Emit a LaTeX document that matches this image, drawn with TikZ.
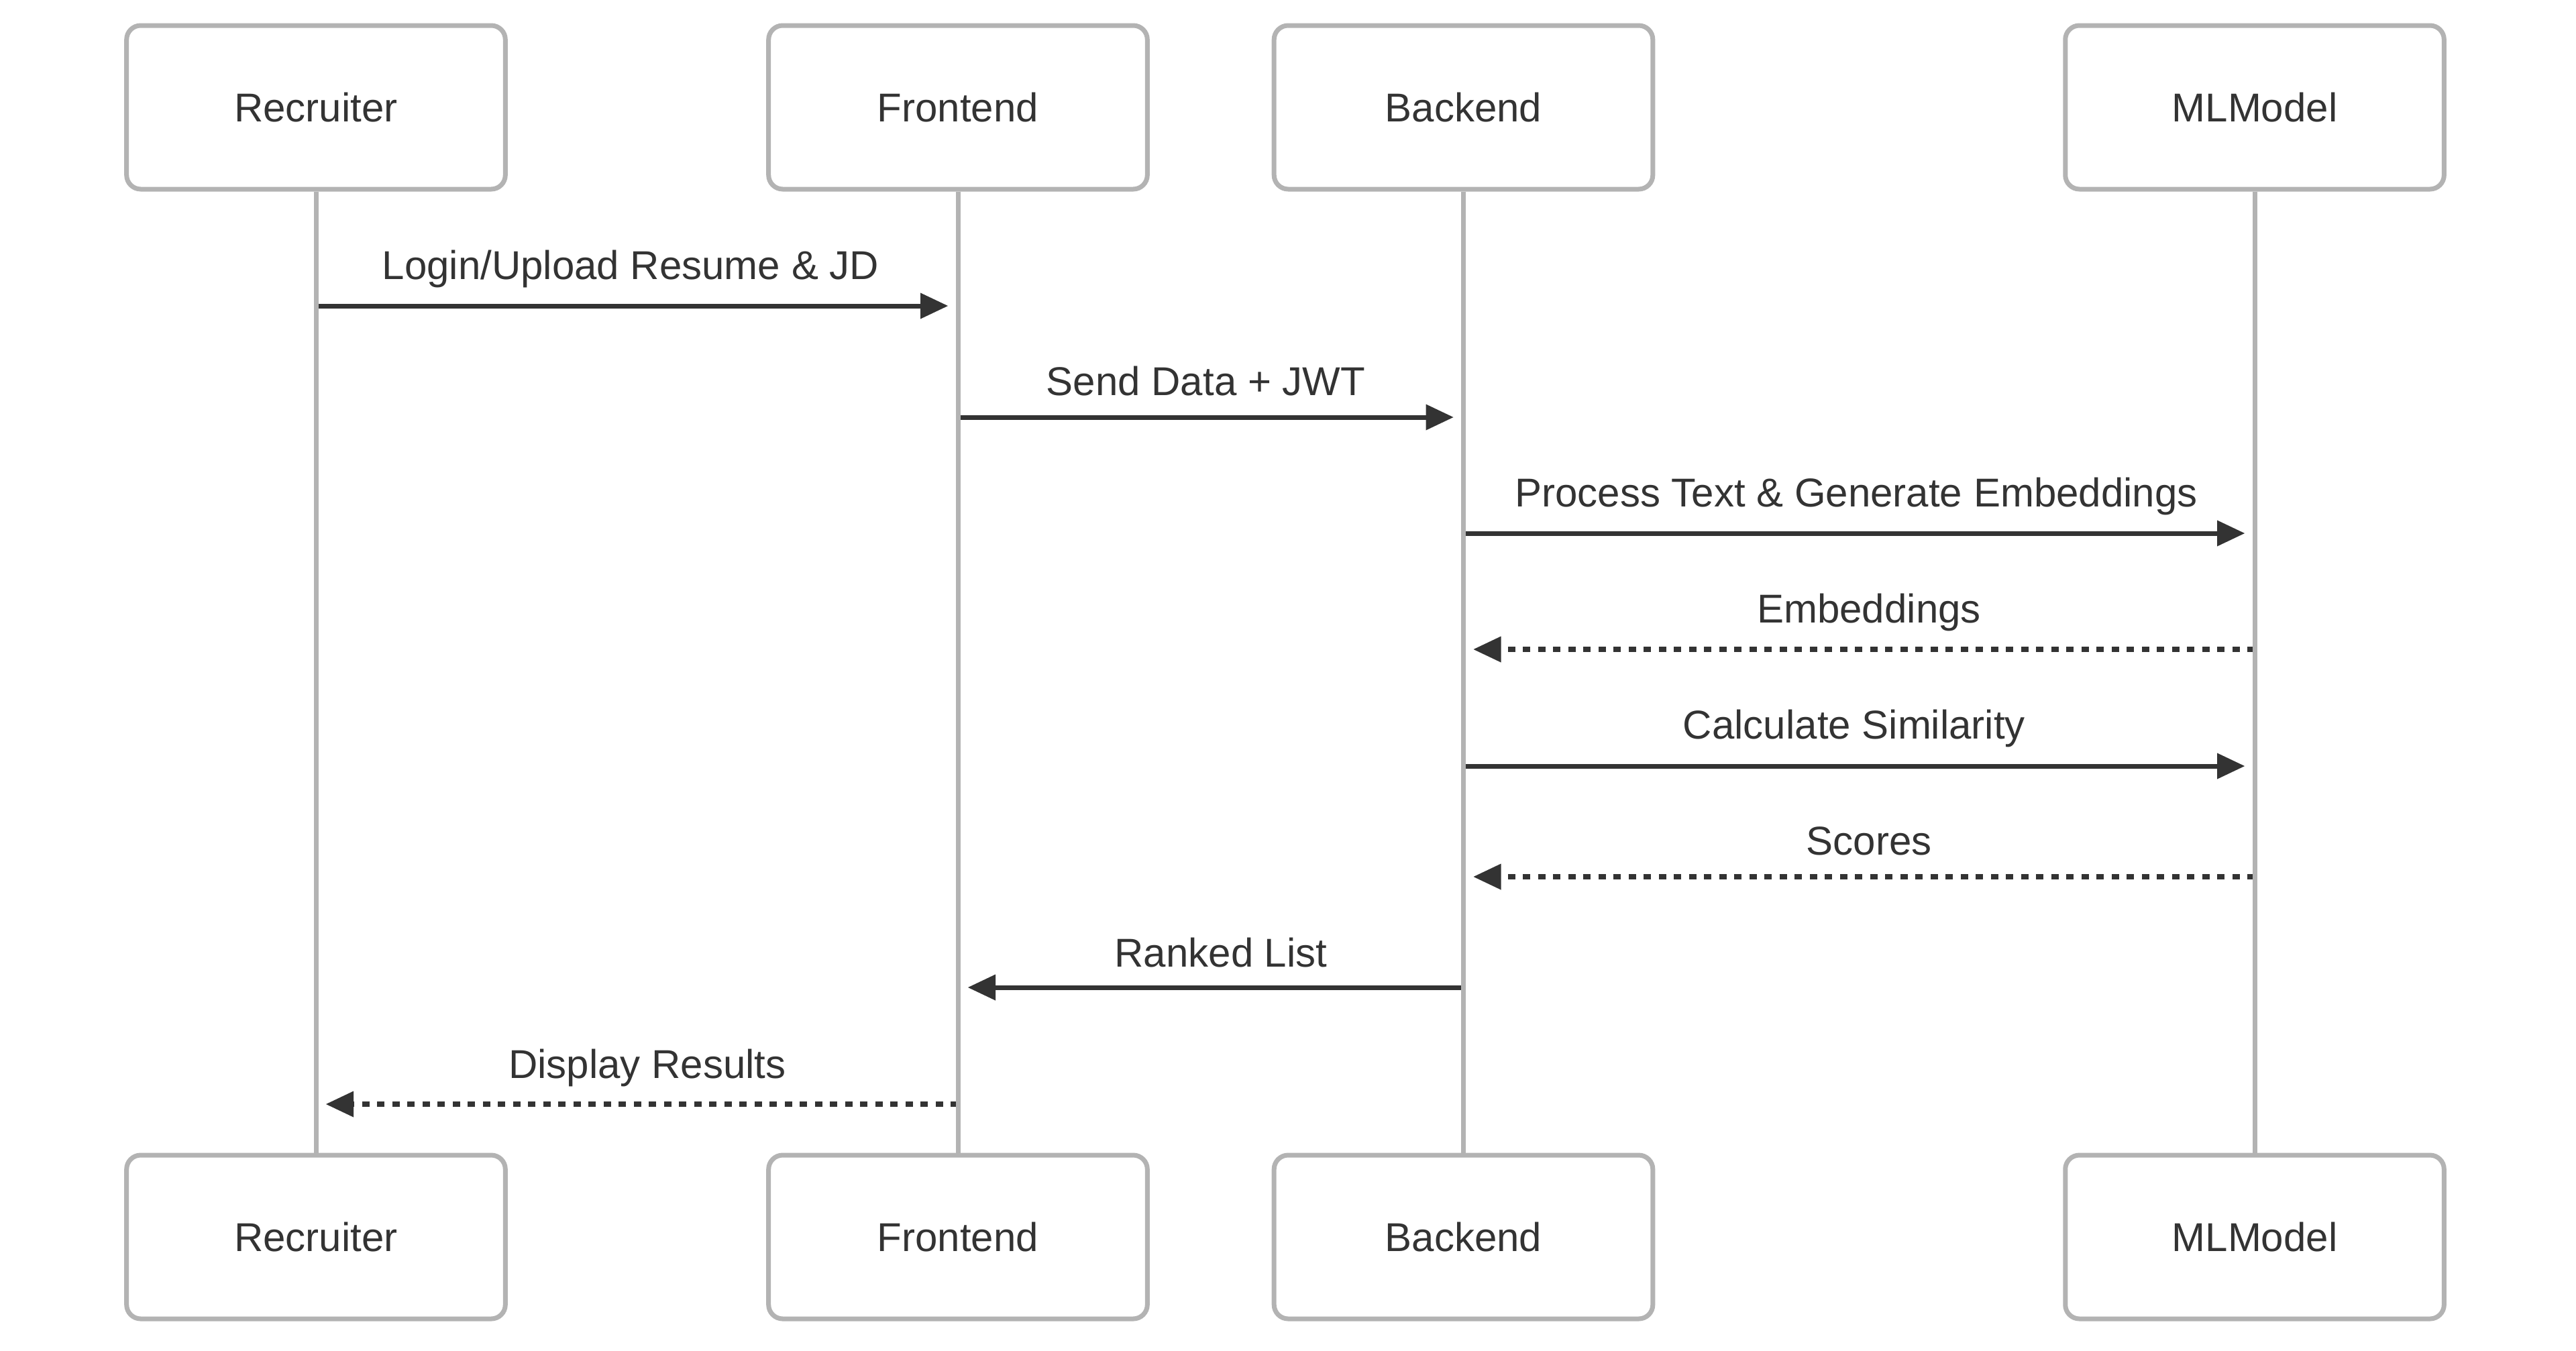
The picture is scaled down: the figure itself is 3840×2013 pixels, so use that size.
\documentclass[tikz,border=0pt]{standalone}
\usepackage{fontspec}
\setmainfont{Liberation Sans}
\usetikzlibrary{arrows.meta}
\definecolor{lifegray}{HTML}{B3B3B3}
\definecolor{ink}{HTML}{333333}
\begin{document}
\begin{tikzpicture}[x=0.25pt,y=-0.25pt,
  actor/.style={draw=lifegray,fill=white,line width=1.75pt,rounded corners=5.25pt,
    minimum width=141.15pt,minimum height=61pt,inner sep=0pt,
    text height=10.75pt,text depth=0pt,text=ink,
    font=\fontsize{15pt}{18pt}\selectfont},
  lifeline/.style={draw=lifegray,line width=1.75pt},
  msg/.style={draw=ink,line width=1.75pt,-{Triangle[length=10.25pt,width=9.75pt,line width=0pt]}},
  reply/.style={msg,line width=2pt,dash pattern=on 2.75pt off 2.875pt},
  lbl/.style={anchor=base,inner sep=0pt,text=ink,font=\fontsize{15pt}{18pt}\selectfont}]
\useasboundingbox (0,0) rectangle (3840,2013);
\fill[white] (0,0) rectangle (3840,2013);

% message end points
\coordinate (s1) at (471,456);    \coordinate (e1) at (1413,456);
\coordinate (s2) at (1428,622);   \coordinate (e2) at (2166.5,622);
\coordinate (s3) at (2181.5,795); \coordinate (e3) at (3346,795);
\coordinate (s4) at (3361,968);   \coordinate (e4) at (2196.5,968);
\coordinate (s5) at (2181.5,1142);\coordinate (e5) at (3346,1142);
\coordinate (s6) at (3361,1307);  \coordinate (e6) at (2196.5,1307);
\coordinate (s7) at (2181.5,1472);\coordinate (e7) at (1443,1472);
\coordinate (s8) at (1428,1646);  \coordinate (e8) at (486,1646);

% messages
\draw[msg]   (s1) -- (e1);
\draw[msg]   (s2) -- (e2);
\draw[msg]   (s3) -- (e3);
\draw[reply] (s4) -- (e4);
\draw[msg]   (s5) -- (e5);
\draw[reply] (s6) -- (e6);
\draw[msg]   (s7) -- (e7);
\draw[reply] (s8) -- (e8);

% labels
\node[lbl] (l1) at (940,416)   {Login/Upload Resume \& JD};
\node[lbl] (l2) at (1797.5,589){Send Data + JWT};
\node[lbl] (l3) at (2767,755)  {Process Text \& Generate Embeddings};
\node[lbl] (l4) at (2786,928)  {Embeddings};
\node[lbl] (l5) at (2764,1101) {Calculate Similarity};
\node[lbl] (l6) at (2786,1274) {Scores};
\node[lbl] (l7) at (1820,1441) {Ranked List};
\node[lbl] (l8) at (965,1607)  {Display Results};

% actor boxes (top and bottom)
\node[actor] (rt) at (471,160)    {Recruiter};
\node[actor] (ft) at (1428,160)   {Frontend};
\node[actor] (bt) at (2181.5,160) {Backend};
\node[actor] (mt) at (3361,160)   {MLModel};
\node[actor] (rb) at (471,1844)   {Recruiter};
\node[actor] (fb) at (1428,1844)  {Frontend};
\node[actor] (bb) at (2181.5,1844){Backend};
\node[actor] (mb) at (3361,1844)  {MLModel};

% lifelines
\draw[lifeline] (rt.south) -- (rb.north);
\draw[lifeline] (ft.south) -- (fb.north);
\draw[lifeline] (bt.south) -- (bb.north);
\draw[lifeline] (mt.south) -- (mb.north);
\end{tikzpicture}
\end{document}
